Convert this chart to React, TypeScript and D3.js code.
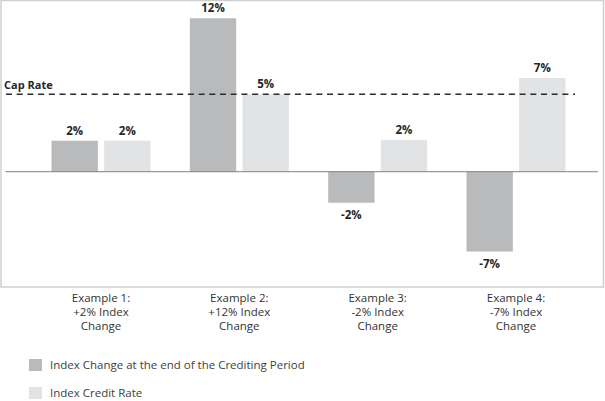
// Index crediting examples — grouped bars with a dashed cap rate line.
// D3 does the scales; React renders the SVG.

import * as d3 from "d3";

const W = 605;
const H = 401;

// ── Data ────────────────────────────────────────────────────────────────────

const categories = [
  ["Example 1:", "+2% Index", "Change"],
  ["Example 2:", "+12% Index", "Change"],
  ["Example 3:", "-2% Index", "Change"],
  ["Example 4:", "-7% Index", "Change"],
];
const seriesNames = ["Index Change at the end of the Crediting Period", "Index Credit Rate"];

// labelled values
const indexChange = [2, 12, -2, -7];
const creditRate = [2, 5, 2, 7];

// bar heights as drawn in the picture (the chart is illustrative, not to scale)
const indexChangeDrawn = [2, 9.9, -2, -5.15];
const creditRateDrawn = [2, 5, 2.05, 6.05];

const capRate = 5;

const colors = ["#b9babc", "#e2e3e5"];

// ── Layout ──────────────────────────────────────────────────────────────────

const FRAME = { left: 1, top: 0.5, right: 603.5, bottom: 287 };
const FONT = "'Open Sans', 'Noto Sans', sans-serif";

export default function App() {
  const x0 = d3
    .scalePoint<number>()
    .domain(d3.range(categories.length))
    .range([101, 516]);

  const x1 = d3
    .scaleBand<number>()
    .domain([0, 1])
    .range([-49.5, 49.5])
    .paddingInner(0.12);

  const y = d3
    .scaleLinear()
    .domain([-7.44, 11.08])
    .range([FRAME.bottom, 0]);

  const drawn = [indexChangeDrawn, creditRateDrawn];
  const shown = [indexChange, creditRate];

  return (
    <div style={{ position: "fixed", left: 0, top: 0 }}>
      <svg width={W} height={H} style={{ display: "block", fontFamily: FONT }}>
        <rect width={W} height={H} fill="#fff" />
        <rect
          x={FRAME.left}
          y={FRAME.top}
          width={FRAME.right - FRAME.left}
          height={FRAME.bottom - FRAME.top}
          fill="none"
          stroke="#cfcfcf"
          strokeWidth={1.5}
        />

        {/* bars */}
        {categories.map((_, i) =>
          drawn.map((vals, s) => {
            const v = vals[i];
            const bx = (x0(i) ?? 0) + (x1(s) ?? 0);
            const top = y(Math.max(0, v));
            const h = Math.abs(y(v) - y(0));
            const label = `${shown[s][i]}%`;
            return (
              <g key={`${i}-${s}`}>
                <rect x={bx} y={top} width={x1.bandwidth()} height={h} fill={colors[s]} />
                <text
                  x={bx + x1.bandwidth() / 2}
                  y={v >= 0 ? y(v) - 6 : y(v) + 16}
                  textAnchor="middle"
                  fontSize={11.5}
                  fontWeight="bold"
                  fill="#262626"
                >
                  {label}
                </text>
              </g>
            );
          })
        )}

        {/* zero line */}
        <line x1={5.5} x2={598} y1={y(0)} y2={y(0)} stroke="#7f7f7f" strokeWidth={1} />

        {/* cap rate */}
        <line
          x1={6}
          x2={575}
          y1={y(capRate)}
          y2={y(capRate)}
          stroke="#2b2b2b"
          strokeWidth={1.5}
          strokeDasharray="6,4.7"
        />
        <text x={4} y={y(capRate) - 5} fontSize={11} fontWeight="bold" fill="#262626">
          Cap Rate
        </text>

        {/* category labels */}
        {categories.map((lines, i) => (
          <text key={i} x={x0(i)} y={302} textAnchor="middle" fontSize={11.5} fill="#333">
            {lines.map((t, k) => (
              <tspan key={k} x={x0(i)} dy={k === 0 ? 0 : 14}>
                {t}
              </tspan>
            ))}
          </text>
        ))}

        {/* legend */}
        {seriesNames.map((name, s) => (
          <g key={name} transform={`translate(29,${359 + s * 28})`}>
            <rect width={13} height={12} fill={colors[s]} />
            <text x={21} y={10} fontSize={11.5} fill="#404040">
              {name}
            </text>
          </g>
        ))}
      </svg>
    </div>
  );
}
